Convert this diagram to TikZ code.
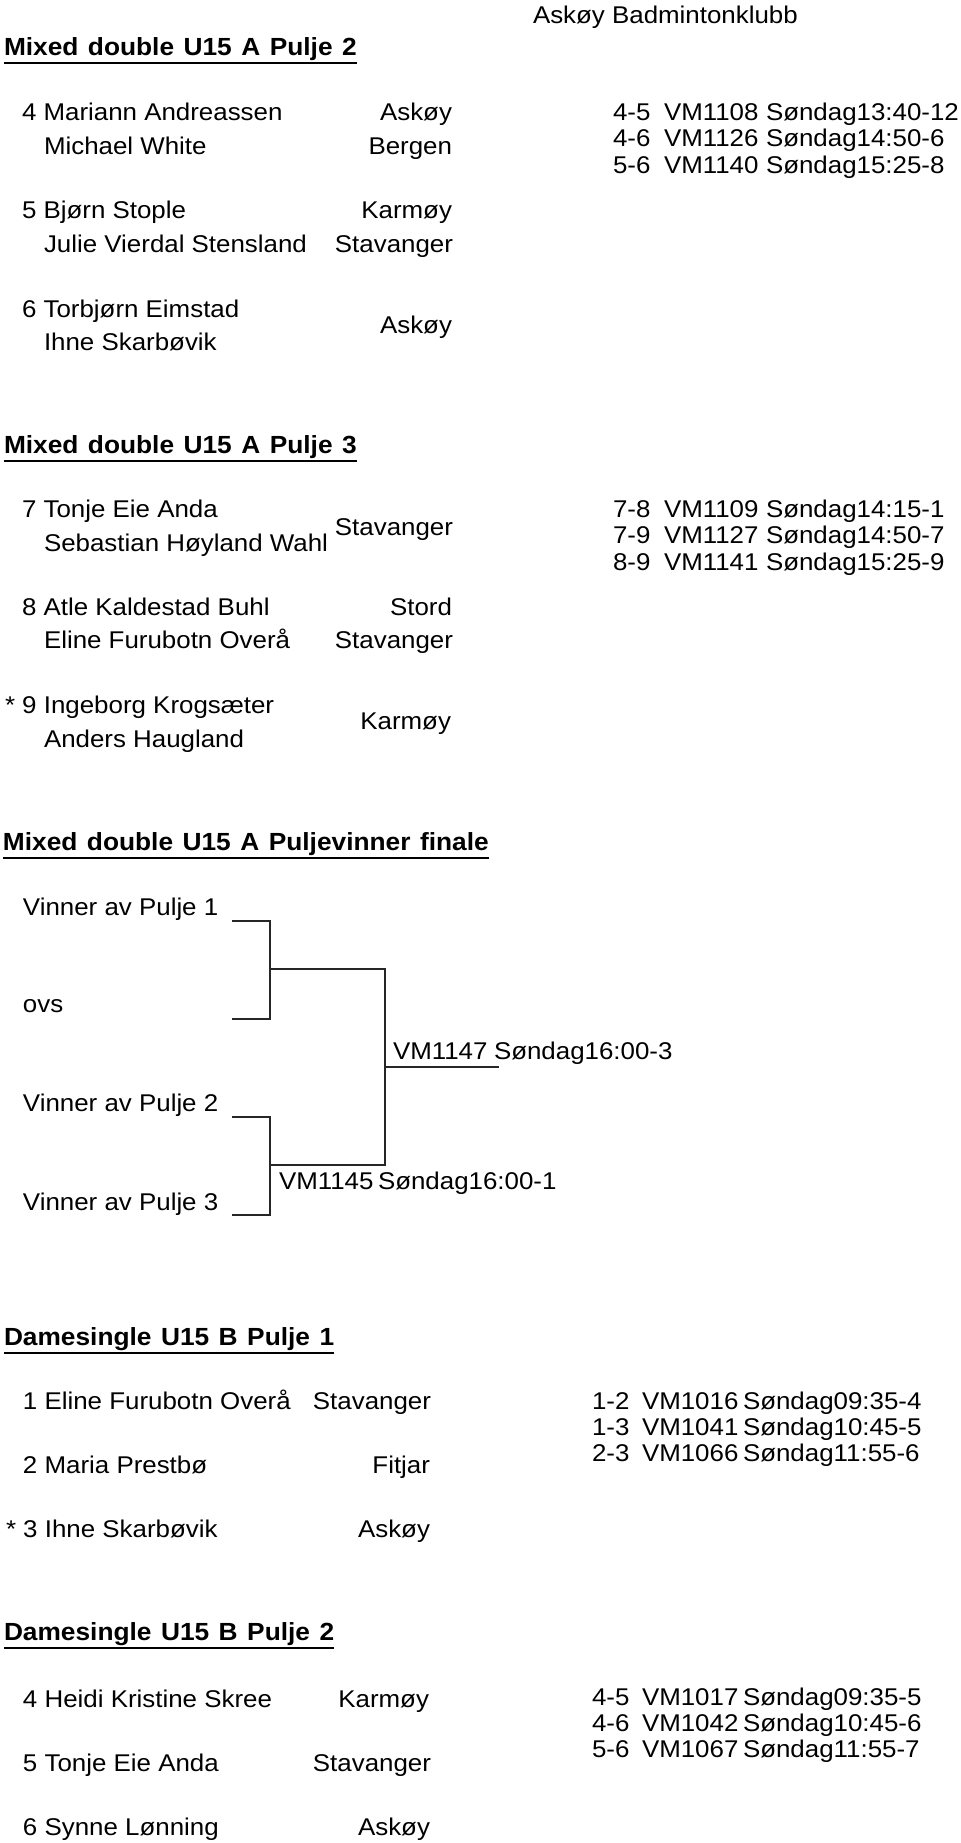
\documentclass[tikz,border=0pt]{standalone}
\usepackage{fontspec}
\newfontfamily\rf{Liberation Sans}[FakeStretch=1.07]
\newfontfamily\hf{Liberation Sans}[FakeStretch=1.06,WordSpace=1.3]
\usetikzlibrary{calc}
\tikzset{
  txt/.style={inner sep=0pt, outer sep=0pt, font=\rf\fontsize{12.1pt}{14pt}\selectfont},
  lt/.style={txt, anchor=base west},
  rt/.style={txt, anchor=base east},
  head/.style={inner sep=0pt, outer sep=0pt, anchor=base west, font=\hf\bfseries\fontsize{12.4pt}{14pt}\selectfont},
  uline/.style={line width=1.1pt},
  bracket/.style={line width=0.75pt, color=black!85},
}
\begin{document}
\begin{tikzpicture}[x=0.5pt,y=-0.5pt]
\useasboundingbox (0,0) rectangle (960,1843);
\fill[white] (0,0) rectangle (960,1843);

\node[lt] (club) at (533,23) {Askøy Badmintonklubb};

% ---------- Mixed double U15 A Pulje 2
\node[head] (h1) at (4,55) {Mixed double U15 A Pulje 2};
\draw[uline] ($(h1.base west)+(0,8)$) -- ($(h1.base east)+(0,8)$);

\node[lt] (p4a) at (22,120) {4 Mariann Andreassen};
\node[lt] (p4b) at (44,154) {Michael White};
\node[rt] (c4a) at (452,120) {Askøy};
\node[rt] (c4b) at (452,154) {Bergen};
\node[lt] (p5a) at (22,218) {5 Bjørn Stople};
\node[lt] (p5b) at (44,252) {Julie Vierdal Stensland};
\node[rt] (c5a) at (452,218) {Karmøy};
\node[rt] (c5b) at (453,252) {Stavanger};
\node[lt] (p6a) at (22,317) {6 Torbjørn Eimstad};
\node[lt] (p6b) at (44,350) {Ihne Skarbøvik};
\node[rt] (c6) at (452,333) {Askøy};

\node[lt] (m1n) at (613,120) {4-5};
\node[lt] (m1c) at (664,120) {VM1108};
\node[lt] (m1t) at (766,120) {Søndag13:40-12};
\node[lt] (m2n) at (613,146.5) {4-6};
\node[lt] (m2c) at (664,146.5) {VM1126};
\node[lt] (m2t) at (766,146.5) {Søndag14:50-6};
\node[lt] (m3n) at (613,173) {5-6};
\node[lt] (m3c) at (664,173) {VM1140};
\node[lt] (m3t) at (766,173) {Søndag15:25-8};

% ---------- Mixed double U15 A Pulje 3
\node[head] (h2) at (4,453) {Mixed double U15 A Pulje 3};
\draw[uline] ($(h2.base west)+(0,8)$) -- ($(h2.base east)+(0,8)$);

\node[lt] (p7a) at (22,517) {7 Tonje Eie Anda};
\node[lt] (p7b) at (44,551) {Sebastian Høyland Wahl};
\node[rt] (c7) at (453,535) {Stavanger};
\node[lt] (p8a) at (22,615) {8 Atle Kaldestad Buhl};
\node[lt] (p8b) at (44,648) {Eline Furubotn Overå};
\node[rt] (c8a) at (452,615) {Stord};
\node[rt] (c8b) at (453,648) {Stavanger};
\node[lt] (p9a) at (5,713) {* 9 Ingeborg Krogsæter};
\node[lt] (p9b) at (44,747) {Anders Haugland};
\node[rt] (c9) at (451,729) {Karmøy};

\node[lt] (n1n) at (613,517) {7-8};
\node[lt] (n1c) at (664,517) {VM1109};
\node[lt] (n1t) at (766,517) {Søndag14:15-1};
\node[lt] (n2n) at (613,543.5) {7-9};
\node[lt] (n2c) at (664,543.5) {VM1127};
\node[lt] (n2t) at (766,543.5) {Søndag14:50-7};
\node[lt] (n3n) at (613,570) {8-9};
\node[lt] (n3c) at (664,570) {VM1141};
\node[lt] (n3t) at (766,570) {Søndag15:25-9};

% ---------- Puljevinner finale
\node[head] (h3) at (3,850) {Mixed double U15 A Puljevinner finale};
\draw[uline] ($(h3.base west)+(0,8)$) -- ($(h3.base east)+(0,8)$);

\node[lt] (v1) at (23,915) {Vinner av Pulje 1};
\node[lt] (ovs) at (23,1012) {ovs};
\node[lt] (v2) at (23,1111) {Vinner av Pulje 2};
\node[lt] (v3) at (23,1210) {Vinner av Pulje 3};

\coordinate (a1) at (232,921);
\coordinate (a2) at (232,1019);
\coordinate (a3) at (232,1117);
\coordinate (a4) at (232,1215);
\coordinate (j1) at (270,969);
\coordinate (j2) at (270,1165);
\coordinate (k1) at (385,1067);
\coordinate (out) at (499,1067);

\draw[bracket] (a1) -| (j1) |- (a2);
\draw[bracket] (a3) -| (j2) |- (a4);
\draw[bracket] (j1) -| (k1) |- (j2);
\draw[bracket] (k1) -- (out);

\node[lt] (f1c) at (393,1059) {VM1147};
\node[lt] (f1t) at (494,1059) {Søndag16:00-3};
\node[lt] (f2c) at (279,1189) {VM1145};
\node[lt] (f2t) at (378,1189) {Søndag16:00-1};

% ---------- Damesingle U15 B Pulje 1
\node[head] (h4) at (4,1345) {Damesingle U15 B Pulje 1};
\draw[uline] ($(h4.base west)+(0,8)$) -- ($(h4.base east)+(0,8)$);

\node[lt] (d1) at (23,1409) {1 Eline Furubotn Overå};
\node[rt] (e1) at (431,1409) {Stavanger};
\node[lt] (d2) at (23,1473) {2 Maria Prestbø};
\node[rt] (e2) at (430,1473) {Fitjar};
\node[lt] (d3) at (6,1537) {* 3 Ihne Skarbøvik};
\node[rt] (e3) at (430,1537) {Askøy};

\node[lt] (q1n) at (592,1409) {1-2};
\node[lt] (q1c) at (642,1409) {VM1016};
\node[lt] (q1t) at (743,1409) {Søndag09:35-4};
\node[lt] (q2n) at (592,1435) {1-3};
\node[lt] (q2c) at (642,1435) {VM1041};
\node[lt] (q2t) at (743,1435) {Søndag10:45-5};
\node[lt] (q3n) at (592,1461) {2-3};
\node[lt] (q3c) at (642,1461) {VM1066};
\node[lt] (q3t) at (743,1461) {Søndag11:55-6};

% ---------- Damesingle U15 B Pulje 2
\node[head] (h5) at (4,1640) {Damesingle U15 B Pulje 2};
\draw[uline] ($(h5.base west)+(0,8)$) -- ($(h5.base east)+(0,8)$);

\node[lt] (d4) at (23,1707) {4 Heidi Kristine Skree};
\node[rt] (e4) at (429,1707) {Karmøy};
\node[lt] (d5) at (23,1771) {5 Tonje Eie Anda};
\node[rt] (e5) at (431,1771) {Stavanger};
\node[lt] (d6) at (23,1835) {6 Synne Lønning};
\node[rt] (e6) at (430,1835) {Askøy};

\node[lt] (r1n) at (592,1705) {4-5};
\node[lt] (r1c) at (642,1705) {VM1017};
\node[lt] (r1t) at (743,1705) {Søndag09:35-5};
\node[lt] (r2n) at (592,1731) {4-6};
\node[lt] (r2c) at (642,1731) {VM1042};
\node[lt] (r2t) at (743,1731) {Søndag10:45-6};
\node[lt] (r3n) at (592,1757) {5-6};
\node[lt] (r3c) at (642,1757) {VM1067};
\node[lt] (r3t) at (743,1757) {Søndag11:55-7};
\end{tikzpicture}
\end{document}
